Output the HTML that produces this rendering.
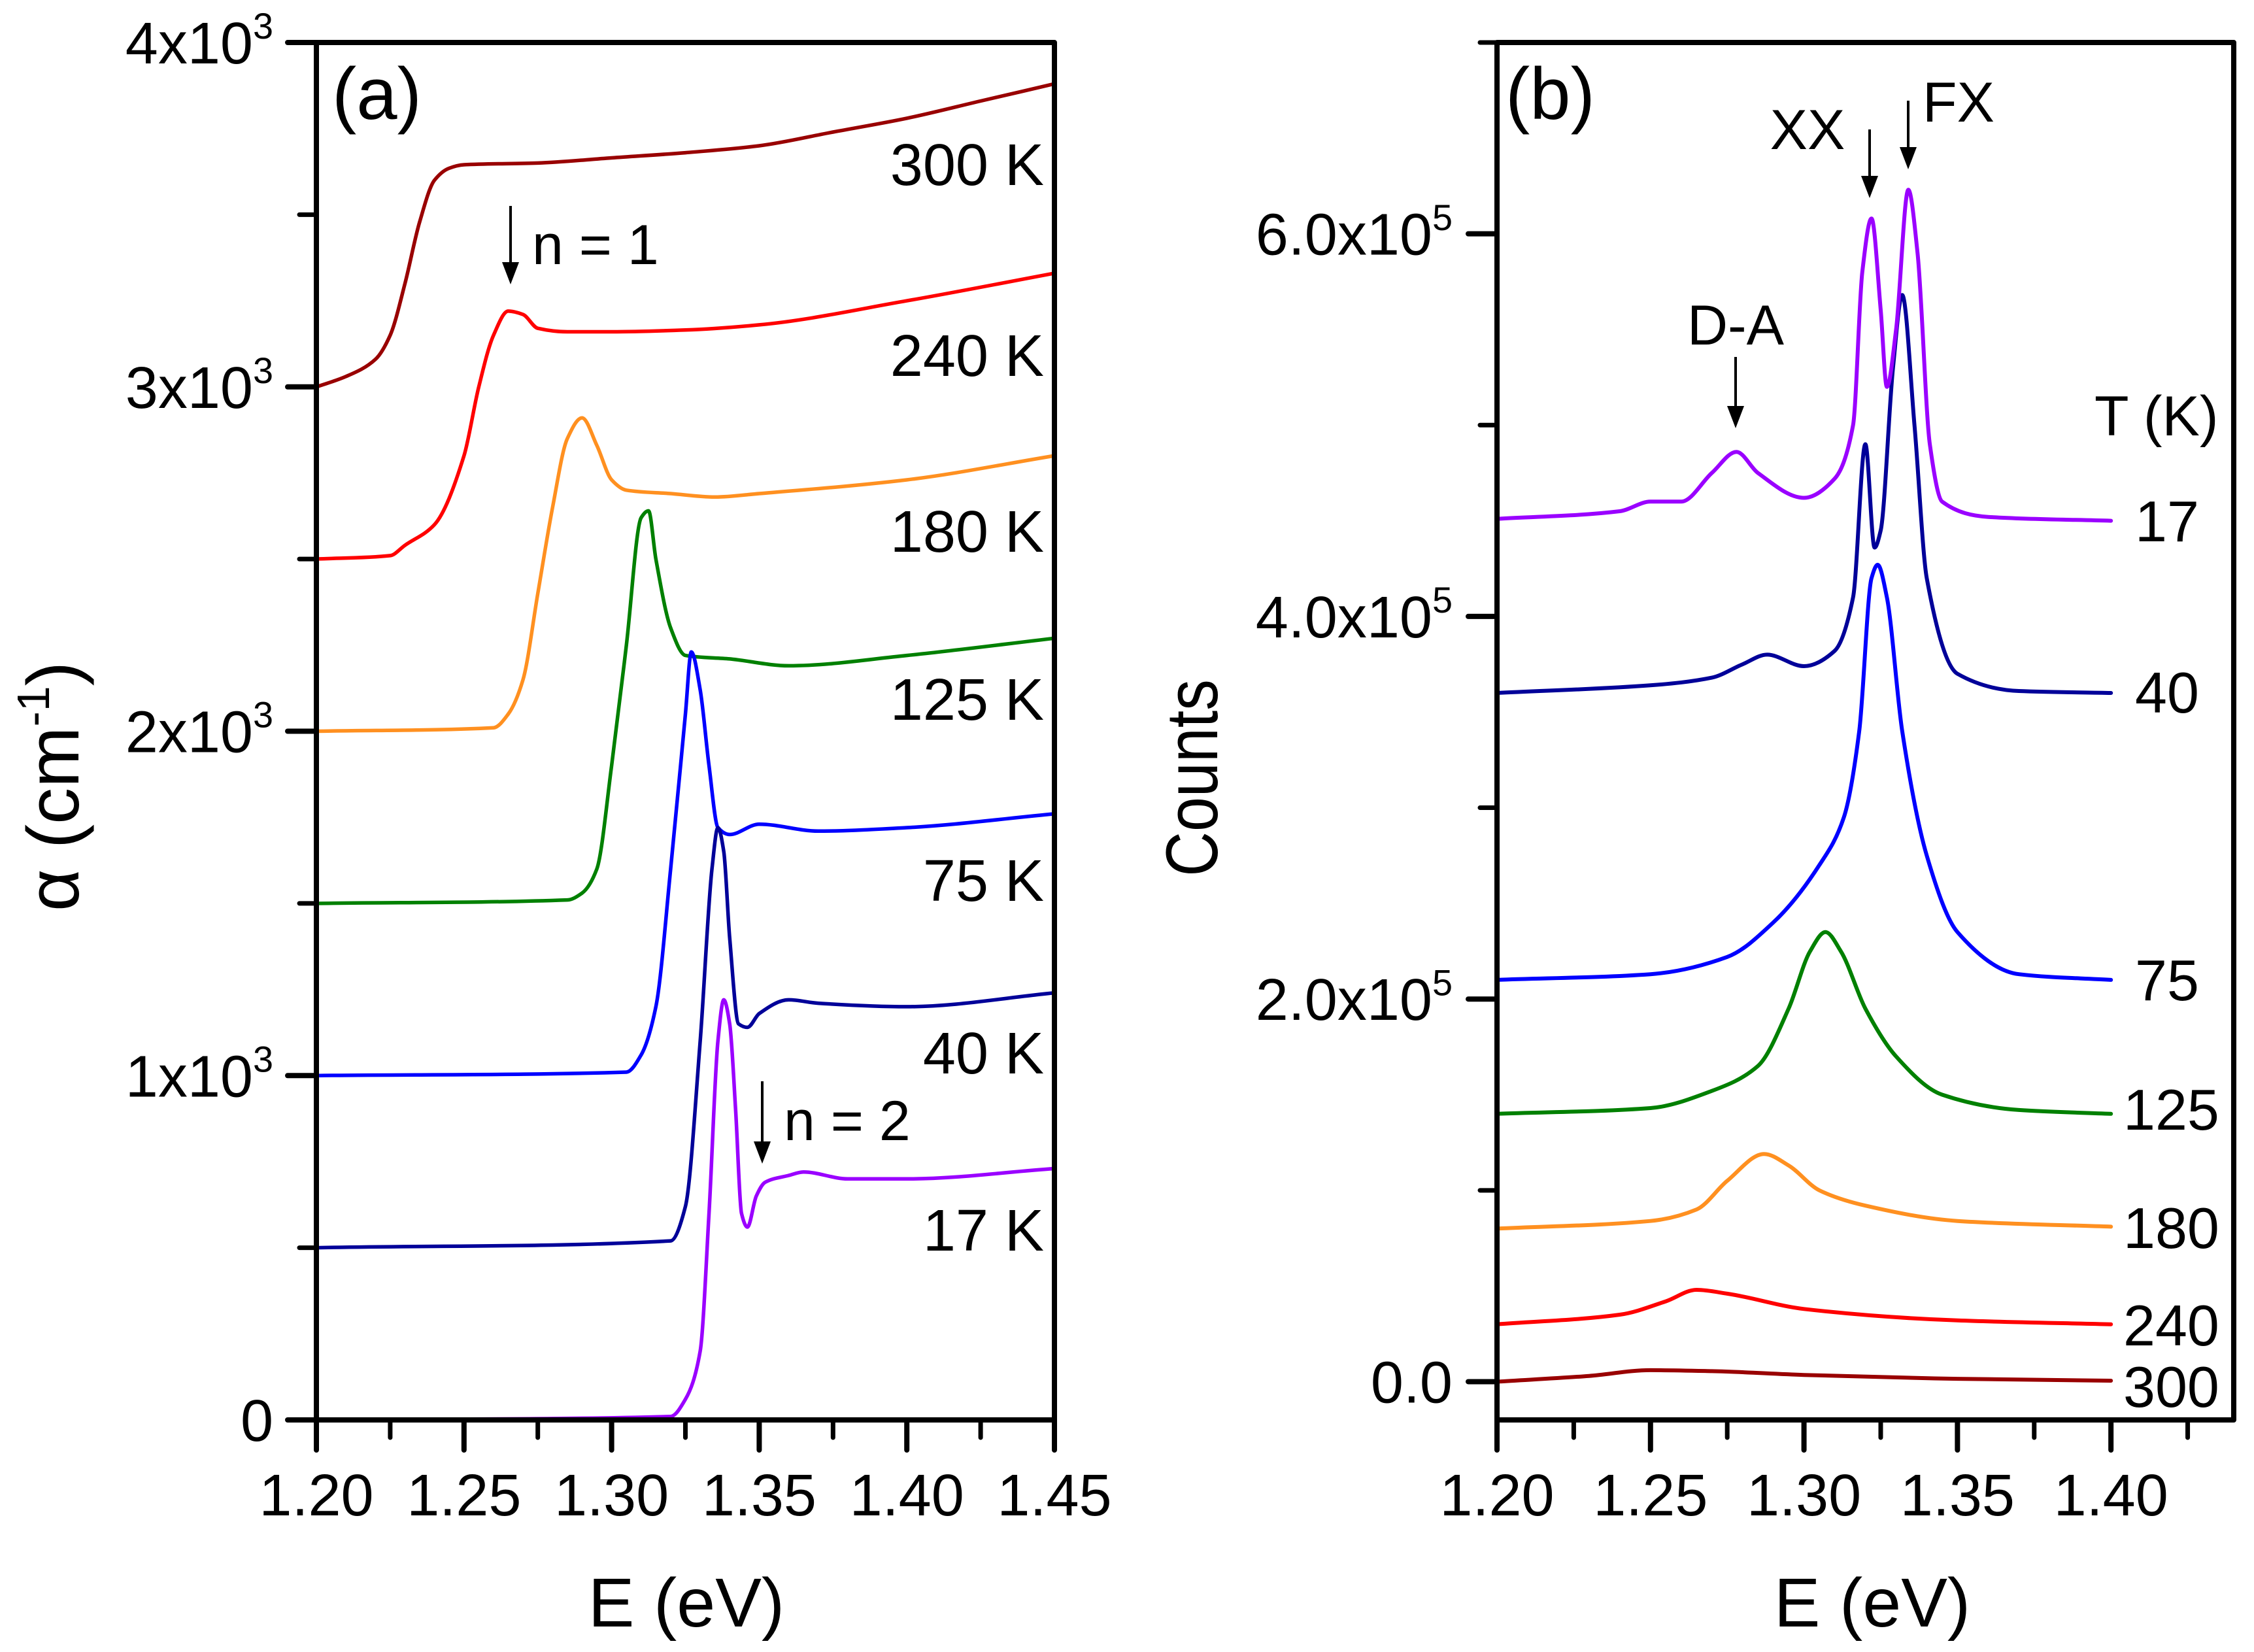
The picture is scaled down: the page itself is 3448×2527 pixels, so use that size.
<!DOCTYPE html>
<html><head><meta charset="utf-8"><style>
html,body{margin:0;padding:0;background:#fff;}
svg{display:block;font-family:"Liberation Sans",Arial,sans-serif;}
</style></head><body>
<svg id="fig" width="3448" height="2527" viewBox="0 0 3448 2527" xmlns="http://www.w3.org/2000/svg">
<rect width="3448" height="2527" fill="#fff"/>
<g id="pa"></g>
<g id="pb"></g>
</svg>
<script>
// ---------- Panel (a) data: absorption alpha (cm^-1) vs E (eV) ----------
const aTemps = ["300 K","240 K","180 K","125 K","75 K","40 K","17 K"];
const aColors = ["#990000","#ff0000","#ff9020","#008000","#0000ff","#000099","#9a00ff"];
const a300E = [1.20,1.21,1.22,1.225,1.23,1.235,1.24,1.245,1.25,1.275,1.30,1.325,1.35,1.375,1.40,1.425,1.45];
const a300V = [3000,3030,3080,3150,3300,3480,3600,3635,3645,3650,3665,3680,3700,3740,3780,3830,3880];
const a240E = [1.20,1.225,1.23,1.24,1.25,1.255,1.26,1.265,1.27,1.275,1.285,1.30,1.325,1.35,1.40,1.45];
const a240V = [2500,2510,2540,2600,2800,3000,3150,3220,3210,3170,3160,3160,3165,3180,3250,3330];
const a180E = [1.20,1.26,1.265,1.27,1.275,1.28,1.285,1.29,1.295,1.30,1.305,1.32,1.335,1.35,1.40,1.45];
const a180V = [2000,2010,2050,2150,2400,2650,2850,2910,2830,2730,2700,2690,2680,2690,2730,2800];
const a125E = [1.20,1.285,1.29,1.295,1.30,1.305,1.31,1.3125,1.315,1.32,1.325,1.34,1.36,1.40,1.45];
const a125V = [1500,1510,1530,1600,1900,2250,2620,2640,2500,2300,2220,2210,2190,2220,2270];
const a75E = [1.20,1.305,1.31,1.315,1.32,1.325,1.327,1.33,1.333,1.336,1.34,1.35,1.37,1.40,1.45];
const a75V = [1000,1010,1060,1200,1600,2050,2230,2120,1900,1720,1700,1730,1710,1720,1760];
const a40E = [1.20,1.32,1.325,1.33,1.334,1.336,1.338,1.34,1.343,1.346,1.35,1.36,1.37,1.40,1.45];
const a40V = [500,520,620,1100,1600,1720,1650,1400,1150,1140,1180,1220,1210,1200,1240];
const a17E = [1.20,1.32,1.325,1.33,1.333,1.336,1.338,1.34,1.342,1.344,1.346,1.349,1.352,1.36,1.365,1.38,1.40,1.45];
const a17V = [0,10,60,200,600,1100,1220,1150,900,600,560,650,690,710,720,700,700,730];
const aYTicks = [0,1000,2000,3000,4000];
const aYLabels = ["0","1x10|3","2x10|3","3x10|3","4x10|3"];
const aXTicks = [1.20,1.25,1.30,1.35,1.40,1.45];
const aXLabels = ["1.20","1.25","1.30","1.35","1.40","1.45"];

// ---------- Panel (b) data: PL counts (x1e5) vs E (eV) ----------
const bTemps = ["300","240","180","125","75","40","17"];
const bColors = ["#990000","#ff0000","#ff9020","#008000","#0000ff","#000099","#9a00ff"];
const b300E = [1.20,1.23,1.25,1.27,1.30,1.35,1.40];
const b300V = [0,0.03,0.06,0.055,0.035,0.015,0.005];
const b240E = [1.20,1.24,1.255,1.265,1.275,1.30,1.35,1.40];
const b240V = [0.30,0.35,0.42,0.48,0.46,0.38,0.32,0.30];
const b180E = [1.20,1.25,1.265,1.275,1.287,1.295,1.305,1.32,1.35,1.40];
const b180V = [0.80,0.84,0.90,1.05,1.19,1.13,1.00,0.92,0.84,0.81];
const b125E = [1.20,1.25,1.27,1.285,1.295,1.302,1.307,1.312,1.32,1.33,1.345,1.37,1.40];
const b125V = [1.40,1.43,1.52,1.65,1.95,2.25,2.35,2.25,1.95,1.70,1.50,1.42,1.40];
const b75E = [1.20,1.25,1.275,1.29,1.305,1.313,1.318,1.322,1.324,1.327,1.332,1.34,1.35,1.37,1.40];
const b75V = [2.10,2.13,2.22,2.40,2.70,2.95,3.40,4.20,4.27,4.10,3.40,2.75,2.35,2.13,2.10];
const b40E = [1.20,1.25,1.27,1.28,1.288,1.30,1.31,1.316,1.32,1.323,1.325,1.329,1.332,1.336,1.34,1.35,1.37,1.40];
const b40V = [3.60,3.64,3.68,3.75,3.80,3.74,3.82,4.10,4.90,4.36,4.45,5.30,5.68,5.00,4.20,3.70,3.61,3.60];
const b17E = [1.20,1.24,1.25,1.26,1.27,1.278,1.285,1.30,1.31,1.316,1.319,1.322,1.325,1.327,1.33,1.334,1.337,1.341,1.345,1.36,1.40];
const b17V = [4.51,4.55,4.60,4.60,4.75,4.86,4.75,4.62,4.72,5.00,5.80,6.08,5.60,5.20,5.50,6.23,5.90,4.90,4.60,4.52,4.50];
const bYTicks = [0,2,4,6];
const bYLabels = ["0.0","2.0x10|5","4.0x10|5","6.0x10|5"];
const bXTicks = [1.20,1.25,1.30,1.35,1.40];
const bXLabels = ["1.20","1.25","1.30","1.35","1.40"];

const NS = "http://www.w3.org/2000/svg";
function mk(parent, tag, attrs, text){
  const e = document.createElementNS(NS, tag);
  for (const k in attrs) e.setAttribute(k, attrs[k]);
  if (text !== undefined) e.textContent = text;
  parent.appendChild(e); return e;
}
// monotone cubic (Fritsch-Carlson) in pixel space, x increasing
function smoothPath(pts){
  const n = pts.length;
  const d = [], m = [];
  for (let i=0;i<n-1;i++) d.push((pts[i+1][1]-pts[i][1])/(pts[i+1][0]-pts[i][0]));
  m[0] = d[0]; m[n-1] = d[n-2];
  for (let i=1;i<n-1;i++){
    if (d[i-1]*d[i] <= 0) m[i] = 0;
    else {
      const h0 = pts[i][0]-pts[i-1][0], h1 = pts[i+1][0]-pts[i][0];
      const w1 = 2*h1+h0, w2 = h1+2*h0;
      m[i] = (w1+w2)/(w1/d[i-1] + w2/d[i]);
    }
  }
  let s = "M" + pts[0][0].toFixed(1) + "," + pts[0][1].toFixed(1);
  for (let i=0;i<n-1;i++){
    const h = pts[i+1][0]-pts[i][0];
    s += " C" + (pts[i][0]+h/3).toFixed(1)+","+(pts[i][1]+m[i]*h/3).toFixed(1)+" "+
         (pts[i+1][0]-h/3).toFixed(1)+","+(pts[i+1][1]-m[i+1]*h/3).toFixed(1)+" "+
         pts[i+1][0].toFixed(1)+","+pts[i+1][1].toFixed(1);
  }
  return s;
}
function labelWithSup(g, x, y, str, size, anchor){
  const parts = str.split("|");
  const t = mk(g, "text", {x:x, y:y, "font-size":size, "text-anchor":anchor, fill:"#000"});
  
  
  mk(t, "tspan", {}, parts[0]);
  if (parts[1]) mk(t, "tspan", {dy: -size*0.42, "font-size": size*0.62}, parts[1]);
  return t;
}
function axesFrame(g, L, R, T, B){
  const f = mk(g, "rect", {x:L, y:T, width:R-L, height:B-T, fill:"none", stroke:"#000", "stroke-width":8, "stroke-linejoin":"round"});
  
  
}
function drawArrow(g, x, y1, y2, name){
  const l = mk(g, "line", {x1:x, y1:y1, x2:x, y2:y2-22, stroke:"#000", "stroke-width":4});
  
  
  const h = mk(g, "polygon", {points:(x-13)+","+(y2-34)+" "+(x+13)+","+(y2-34)+" "+x+","+y2, fill:"#000"});
  
  
}

// ---------- Panel (a) ----------
(function(){
  const g = document.getElementById("pa");
  const L=484, R=1613, T=65, B=2172;
  const x0=1.20, x1=1.45, y0=0, y1=4000;
  const X = e => L + (e-x0)/(x1-x0)*(R-L);
  const Y = v => B - (v-y0)/(y1-y0)*(B-T);
  const series = [[a300E,a300V],[a240E,a240V],[a180E,a180V],[a125E,a125V],[a75E,a75V],[a40E,a40V],[a17E,a17V]];
  series.forEach((s,i)=>{
    const pts = s[0].map((e,j)=>[X(e), Y(s[1][j])]);
    const p = mk(g, "path", {d:smoothPath(pts), fill:"none", stroke:aColors[i], "stroke-width":5.5, "stroke-linejoin":"round", "stroke-linecap":"round"});
    
    
  });
  axesFrame(g, L, R, T, B);
  aYTicks.forEach((v,i)=>{
    const tk = mk(g, "line", {x1:L-44, x2:L, y1:Y(v), y2:Y(v), stroke:"#000", "stroke-width":8, "stroke-linecap":"round"});
    
    
    labelWithSup(g, 418, Y(v)+32, aYLabels[i], 90, "end");
    if (i < aYTicks.length-1){
      const m = mk(g, "line", {x1:L-26, x2:L, y1:Y(v+500), y2:Y(v+500), stroke:"#000", "stroke-width":7, "stroke-linecap":"round"});
      
      
    }
  });
  aXTicks.forEach((v,i)=>{
    const tk = mk(g, "line", {x1:X(v), x2:X(v), y1:B, y2:B+46, stroke:"#000", "stroke-width":8, "stroke-linecap":"round"});
    
    
    const t = mk(g, "text", {x:X(v), y:2318, "font-size":90, "text-anchor":"middle"}, aXLabels[i]);
    
    
    if (i < aXTicks.length-1){
      const m = mk(g, "line", {x1:X(v+0.025), x2:X(v+0.025), y1:B, y2:B+27, stroke:"#000", "stroke-width":7, "stroke-linecap":"round"});
      
      
    }
  });
  const tBase = [283,575,844,1101,1378,1642,1913];
  aTemps.forEach((s,i)=>{
    const t = mk(g, "text", {x:1597, y:tBase[i], "font-size":90, "text-anchor":"end"}, s);
    
    
  });
  const xt = mk(g, "text", {x:1050, y:2488, "font-size":106, "text-anchor":"middle"}, "E (eV)");
  
  
  const yt = mk(g, "text", {x:0, y:0, "font-size":112, "text-anchor":"middle", transform:"translate(120,1203) rotate(-90)"});
  
  
  mk(yt, "tspan", {}, "α (cm");
  mk(yt, "tspan", {dy:-45, "font-size":70}, "-1");
  mk(yt, "tspan", {dy:45}, ")");
  const pl = mk(g, "text", {x:508, y:182, "font-size":112}, "(a)");
  
  
  drawArrow(g, 781, 315, 435, "arrow-n1");
  const n1 = mk(g, "text", {x:814, y:404, "font-size":86}, "n = 1");
  
  
  drawArrow(g, 1166, 1654, 1780, "arrow-n2");
  const n2 = mk(g, "text", {x:1199, y:1744, "font-size":86}, "n = 2");
  
  
})();

// ---------- Panel (b) ----------
(function(){
  const g = document.getElementById("pb");
  const L=2290, R=3417, T=65, B=2172;
  const x0=1.20, x1=1.44, y0=-0.2, y1=7.0;
  const X = e => L + (e-x0)/(x1-x0)*(R-L);
  const Y = v => B - (v-y0)/(y1-y0)*(B-T);
  const series = [[b300E,b300V],[b240E,b240V],[b180E,b180V],[b125E,b125V],[b75E,b75V],[b40E,b40V],[b17E,b17V]];
  series.forEach((s,i)=>{
    const pts = s[0].map((e,j)=>[X(e), Y(s[1][j])]);
    const p = mk(g, "path", {d:smoothPath(pts), fill:"none", stroke:bColors[i], "stroke-width":6, "stroke-linejoin":"round", "stroke-linecap":"round"});
    
    
  });
  axesFrame(g, L, R, T, B);
  bYTicks.forEach((v,i)=>{
    const tk = mk(g, "line", {x1:L-44, x2:L, y1:Y(v), y2:Y(v), stroke:"#000", "stroke-width":8, "stroke-linecap":"round"});
    
    
    labelWithSup(g, 2222, Y(v)+32, bYLabels[i], 90, "end");
    const m = mk(g, "line", {x1:L-26, x2:L, y1:Y(v+1), y2:Y(v+1), stroke:"#000", "stroke-width":7, "stroke-linecap":"round"});
    
    
  });
  bXTicks.forEach((v,i)=>{
    const tk = mk(g, "line", {x1:X(v), x2:X(v), y1:B, y2:B+46, stroke:"#000", "stroke-width":8, "stroke-linecap":"round"});
    
    
    const t = mk(g, "text", {x:X(v), y:2318, "font-size":90, "text-anchor":"middle"}, bXLabels[i]);
    
    
    const m = mk(g, "line", {x1:X(v+0.025), x2:X(v+0.025), y1:B, y2:B+27, stroke:"#000", "stroke-width":7, "stroke-linecap":"round"});
    
    
  });
  const tBase = [2152,2058,1909,1728,1530,1090,828];
  const tX = [3248,3248,3248,3248,3266,3266,3266];
  bTemps.forEach((s,i)=>{
    const t = mk(g, "text", {x:tX[i], y:tBase[i], "font-size":88}, s);
    
    
  });
  const tk = mk(g, "text", {x:3204, y:666, "font-size":86}, "T (K)");
  
  
  const xt = mk(g, "text", {x:2864, y:2488, "font-size":106, "text-anchor":"middle"}, "E (eV)");
  
  
  const yt = mk(g, "text", {x:0, y:0, "font-size":112, "text-anchor":"middle", transform:"translate(1862,1190) rotate(-90) scale(0.85,1)"}, "Counts");
  
  
  const pl = mk(g, "text", {x:2303, y:182, "font-size":112}, "(b)");
  
  
  const da = mk(g, "text", {x:2655, y:527, "font-size":86, "text-anchor":"middle"}, "D-A");
  
  
  drawArrow(g, 2655, 546, 655, "arrow-da");
  const xx = mk(g, "text", {x:2765, y:228, "font-size":86, "text-anchor":"middle"}, "XX");
  
  
  drawArrow(g, 2860, 198, 303, "arrow-xx");
  const fx = mk(g, "text", {x:2996, y:186, "font-size":86, "text-anchor":"middle"}, "FX");
  
  
  drawArrow(g, 2919, 154, 259, "arrow-fx");
})();
</script>
</body></html>
